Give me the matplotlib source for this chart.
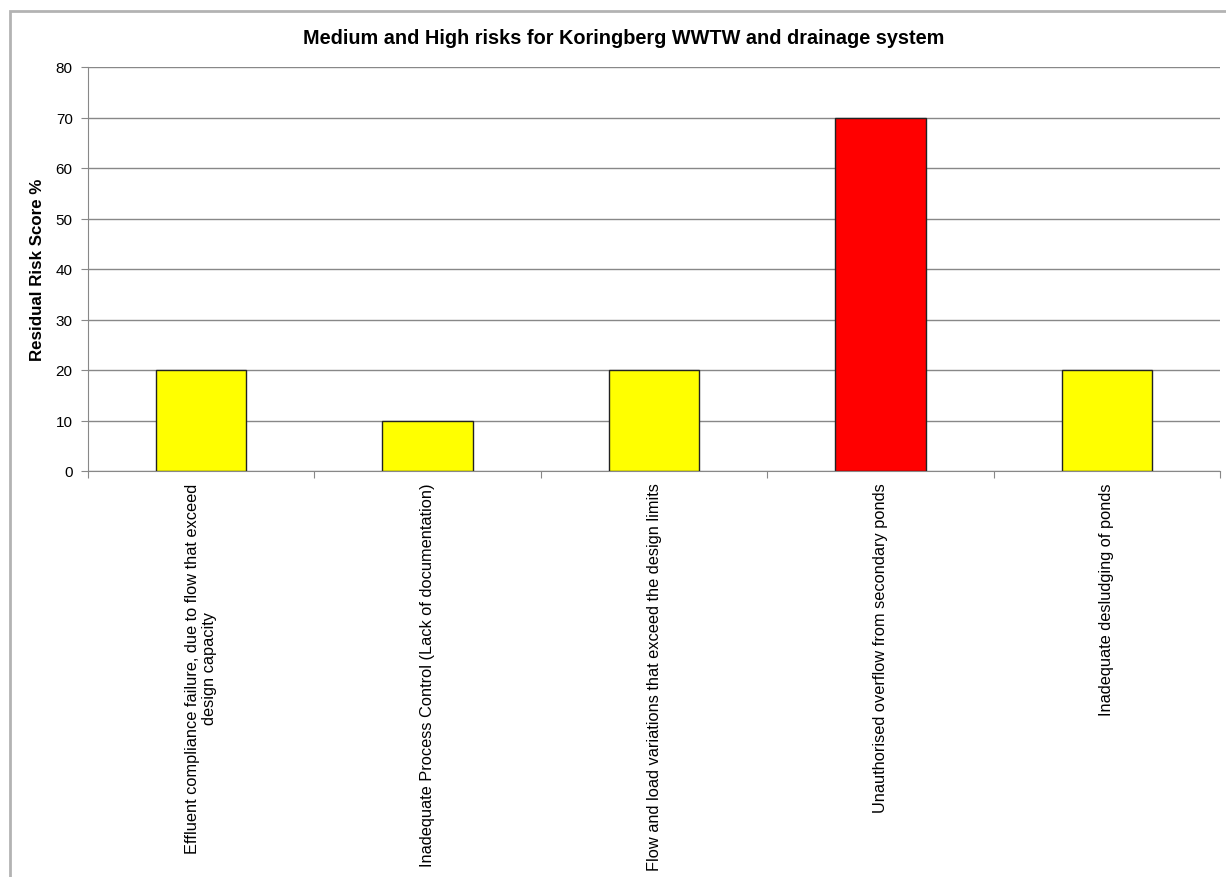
import matplotlib.pyplot as plt
from matplotlib.patches import Rectangle

plt.rcParams['font.family'] = ['Liberation Sans', 'DejaVu Sans']

risks = [
    'Effluent compliance failure, due to flow that exceed\ndesign capacity',
    'Inadequate Process Control (Lack of documentation)',
    'Flow and load variations that exceed the design limits',
    'Unauthorised overflow from secondary ponds',
    'Inadequate desludging of ponds',
]
scores = [20, 10, 20, 70, 20]
colours = ['#ffff00', '#ffff00', '#ffff00', '#ff0000', '#ffff00']

fig = plt.figure(figsize=(12.26, 8.78), dpi=100)
ax = fig.add_axes([88 / 1226, 1 - 472 / 878, (1220 - 88) / 1226, (472 - 68) / 878])

# chart area border
fig.patches.append(Rectangle((10 / 1226, -0.05), 1.2, 1 - 12 / 878 + 0.05,
                             transform=fig.transFigure, fill=False,
                             edgecolor='#b3b3b3', linewidth=2))

x = range(len(risks))
ax.bar(x, scores, width=0.4, color=colours, edgecolor='#222222', linewidth=1, zorder=3)

ax.set_xlim(-0.5, len(risks) - 0.5)
ax.set_ylim(0, 80)
ax.set_yticks(range(0, 81, 10))
ax.yaxis.grid(True, color='#888888', linewidth=1)
ax.set_axisbelow(True)

for side in ['top', 'right']:
    ax.spines[side].set_visible(False)
for side in ['left', 'bottom']:
    ax.spines[side].set_color('#888888')

ax.set_xticks([i - 0.5 for i in range(len(risks) + 1)], minor=False)
ax.set_xticklabels([])
ax.tick_params(axis='x', length=5, color='#888888', direction='out')
ax.tick_params(axis='y', length=5, color='#888888', labelsize=11, pad=6)

for i, label in enumerate(risks):
    ax.text(i, -2.3, label, rotation=90, ha='center', va='top',
            fontsize=11.8, multialignment='center')

ax.set_ylabel('Residual Risk Score %', fontweight='bold', fontsize=12.2, labelpad=8)
fig.text(624 / 1226, 1 - 38 / 878,
         'Medium and High risks for Koringberg WWTW and drainage system',
         ha='center', va='center', fontweight='bold', fontsize=14.3)

fig.savefig('out.png', dpi=100)
